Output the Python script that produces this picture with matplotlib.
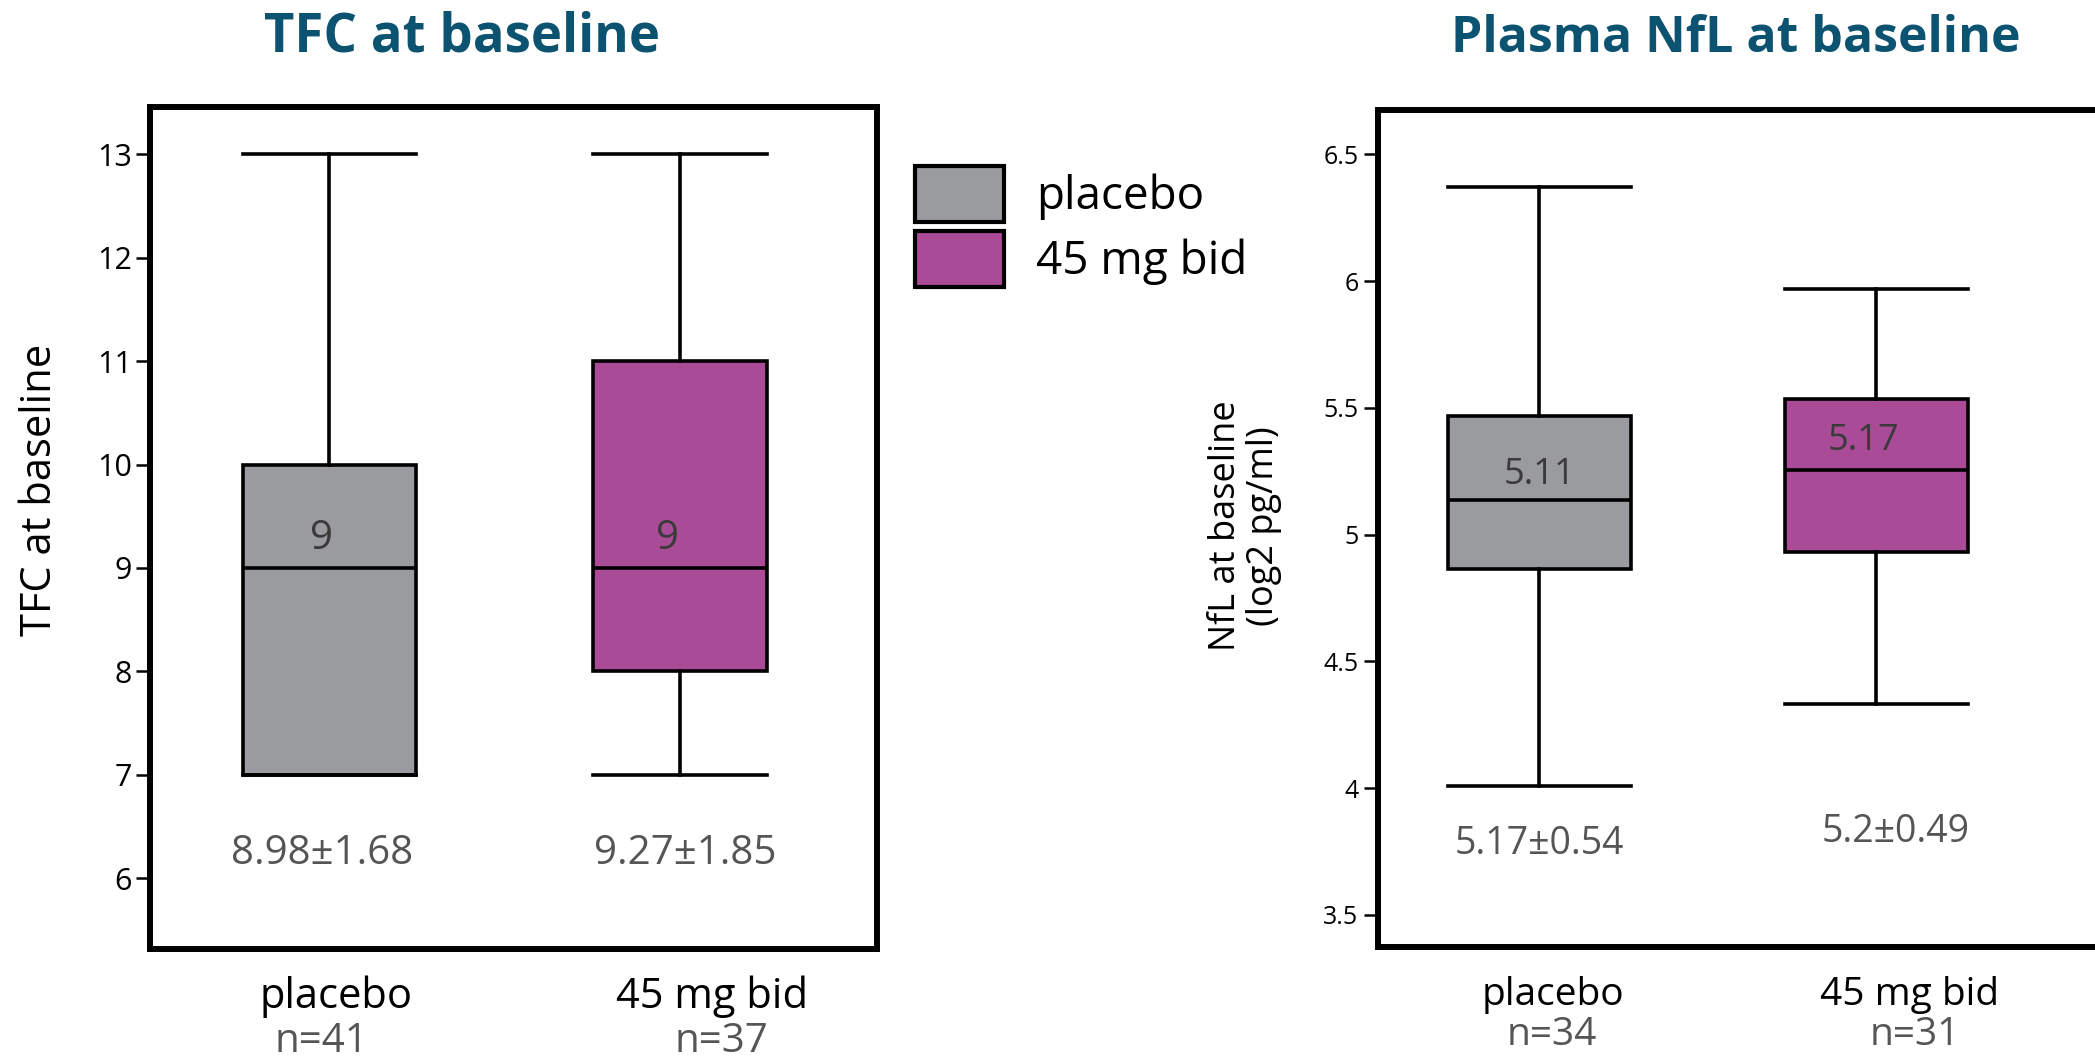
import matplotlib
matplotlib.use("Agg")
import matplotlib.pyplot as plt
from matplotlib.patches import Patch

plt.rcParams['font.family'] = ['Open Sans', 'DejaVu Sans']

# ---------------- data ----------------
groups = ['placebo', '45 mg bid']
colors = ['#9a9b9f', '#aa4b98']

tfc_n = [41, 37]
tfc_whislo = [7, 7]
tfc_q1 = [7, 8]
tfc_med = [9, 9]
tfc_q3 = [10, 11]
tfc_whishi = [13, 13]
tfc_med_labels = ['9', '9']
tfc_mean_sd = ['8.98±1.68', '9.27±1.85']
tfc_yticks = [6, 7, 8, 9, 10, 11, 12, 13]
tfc_yticklabels = ['6', '7', '8', '9', '10', '11', '12', '13']

nfl_n = [34, 31]
nfl_whislo = [4.01, 4.33]
nfl_q1 = [4.865, 4.933]
nfl_med = [5.137, 5.255]
nfl_q3 = [5.467, 5.533]
nfl_whishi = [6.373, 5.968]
nfl_med_labels = ['5.11', '5.17']
nfl_mean_sd = ['5.17±0.54', '5.2±0.49']
nfl_yticks = [3.5, 4, 4.5, 5, 5.5, 6, 6.5]
nfl_yticklabels = ['3.5', '4', '4.5', '5', '5.5', '6', '6.5']

TITLE_COLOR = '#0b5370'
GREY_TXT = '#555555'

W, H = 2095, 1061
fig = plt.figure(figsize=(W / 100, H / 100), dpi=100)


def fx(px):
    return px / W


def fy(py):
    return 1 - py / H


ax1 = fig.add_axes([fx(150), fy(949), fx(877) - fx(150), fy(107) - fy(949)])
ax2 = fig.add_axes([fx(1378), fy(947), fx(2112) - fx(1378), fy(110) - fy(947)])


def draw_panel(ax, whislo, q1, med, q3, whishi, width, lw):
    stats = []
    for i in range(len(groups)):
        stats.append(dict(whislo=whislo[i], q1=q1[i], med=med[i], q3=q3[i],
                          whishi=whishi[i], fliers=[]))
    pos = list(range(1, len(groups) + 1))
    bp = ax.bxp(stats, positions=pos, widths=width, capwidths=width,
                patch_artist=True, showfliers=False,
                boxprops=dict(edgecolor='black', linewidth=lw),
                medianprops=dict(color='black', linewidth=lw),
                whiskerprops=dict(color='black', linewidth=lw),
                capprops=dict(color='black', linewidth=lw))
    for patch, c in zip(bp['boxes'], colors):
        patch.set_facecolor(c)
    for sp in ax.spines.values():
        sp.set_linewidth(4.3)
        sp.set_color('black')
    ax.set_xticks([])
    return pos


# ---------------- left panel ----------------
pos1 = draw_panel(ax1, tfc_whislo, tfc_q1, tfc_med, tfc_q3, tfc_whishi, 0.494, 2.6)
ax1.set_xlim(0.488, 2.562)
ax1.set_ylim(5.315, 13.457)
ax1.set_yticks(tfc_yticks)
ax1.set_yticklabels(tfc_yticklabels)
ax1.tick_params(axis='y', length=10, width=1.8, pad=3, labelsize=22)

for p, m, lab, dx in zip(pos1, tfc_med, tfc_med_labels, [-6, -9]):
    ax1.annotate(lab, xy=(p, m), xytext=(dx, 21), textcoords='offset points',
                 ha='center', va='center', fontsize=29, color='#3a3a3a')
for p, lab, dx in zip(pos1, tfc_mean_sd, [-5, 4]):
    ax1.annotate(lab, xy=(p, 0.1136), xycoords=('data', 'axes fraction'),
                 xytext=(dx, 0), textcoords='offset points',
                 ha='center', va='center', fontsize=29, color=GREY_TXT)

for p, g, n, dxg, dxn in zip(pos1, groups, tfc_n, [5, 23], [-6, 30]):
    ax1.annotate(g, xy=(p, fy(997)), xycoords=('data', 'figure fraction'),
                 xytext=(dxg, 0), textcoords='offset points',
                 ha='center', va='center', fontsize=30, color='black',
                 annotation_clip=False)
    ax1.annotate(f'n={n}', xy=(p, fy(1042)), xycoords=('data', 'figure fraction'),
                 xytext=(dxn, 0), textcoords='offset points',
                 ha='center', va='center', fontsize=29, color=GREY_TXT,
                 annotation_clip=False)

fig.text(fx(40), fy(490), 'TFC at baseline', rotation=90, ha='center',
         va='center', fontsize=30, color='black')
fig.text(fx(462), fy(52), 'TFC at baseline', ha='center', va='baseline',
         fontsize=38, fontweight='bold', color=TITLE_COLOR)

# ---------------- right panel ----------------
pos2 = draw_panel(ax2, nfl_whislo, nfl_q1, nfl_med, nfl_q3, nfl_whishi, 0.543, 2.6)
ax2.set_xlim(0.522, 2.70)
ax2.set_ylim(3.373, 6.675)
ax2.set_yticks(nfl_yticks)
ax2.set_yticklabels(nfl_yticklabels)
ax2.tick_params(axis='y', length=10, width=1.8, pad=4, labelsize=18)

for p, m, lab, dx, dy in zip(pos2, nfl_med, nfl_med_labels, [0, -9], [18, 20.5]):
    ax2.annotate(lab, xy=(p, m), xytext=(dx, dy), textcoords='offset points',
                 ha='center', va='center', fontsize=26, color='#3a3a3a')
for p, lab, yf, dx in zip(pos2, nfl_mean_sd, [0.123, 0.137], [0, 14]):
    ax2.annotate(lab, xy=(p, yf), xycoords=('data', 'axes fraction'),
                 xytext=(dx, 0), textcoords='offset points',
                 ha='center', va='center', fontsize=27, color=GREY_TXT)

for p, g, n, dxg, dxn in zip(pos2, groups, nfl_n, [10, 24], [9, 28]):
    ax2.annotate(g, xy=(p, fy(995)), xycoords=('data', 'figure fraction'),
                 xytext=(dxg, 0), textcoords='offset points',
                 ha='center', va='center', fontsize=28, color='black',
                 annotation_clip=False)
    ax2.annotate(f'n={n}', xy=(p, fy(1035)), xycoords=('data', 'figure fraction'),
                 xytext=(dxn, 0), textcoords='offset points',
                 ha='center', va='center', fontsize=28, color=GREY_TXT,
                 annotation_clip=False)

fig.text(fx(1245), fy(526), 'NfL at baseline\n(log2 pg/ml)', rotation=90,
         ha='center', va='center', fontsize=26, color='black',
         linespacing=1.1, multialignment='center')
fig.text(fx(1736), fy(52), 'Plasma NfL at baseline', ha='center', va='baseline',
         fontsize=36, fontweight='bold', color=TITLE_COLOR)

# ---------------- legend ----------------
handles = [Patch(facecolor=c, edgecolor='black', linewidth=3.0) for c in colors]
fig.legend(handles, groups, loc='upper left',
           bbox_to_anchor=(fx(915), fy(166)), frameon=False, fontsize=33,
           handlelength=1.95, handleheight=1.5, handletextpad=0.7,
           labelspacing=0.2, borderpad=0, borderaxespad=0)

fig.savefig('out.png', dpi=100)
